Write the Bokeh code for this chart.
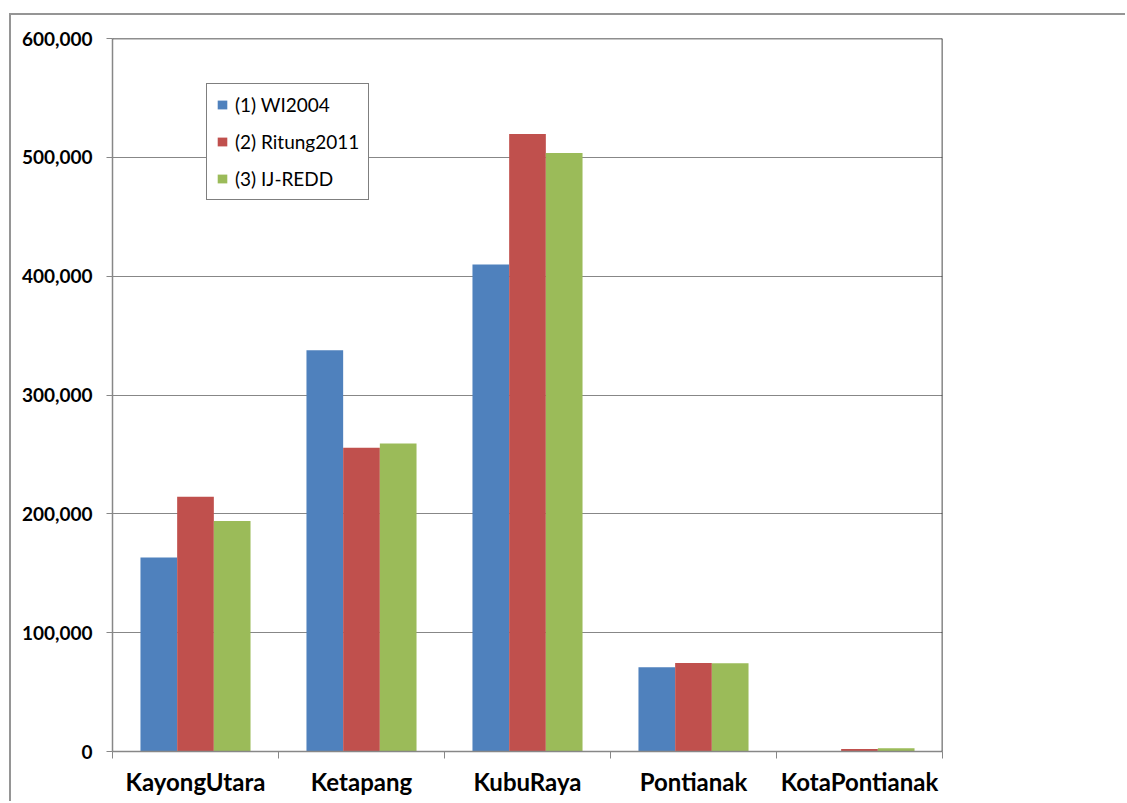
from bokeh.plotting import figure
from bokeh.models import (Range1d, FixedTicker, NumeralTickFormatter, Span, Legend,
                          ColumnDataSource)
from bokeh.transform import dodge
from bokeh.embed import file_html
from bokeh.resources import INLINE

# Forest area per district (ha) from three data sources
districts = ["KayongUtara", "Ketapang", "KubuRaya", "Pontianak", "KotaPontianak"]
wi2004 = [163300, 337600, 409800, 70800, 0]
ritung2011 = [214300, 255700, 519600, 74500, 2200]
ij_redd = [193900, 259100, 503600, 74200, 2800]

series_names = ["(1) WI2004", "(2) Ritung2011", "(3) IJ-REDD"]
series_colors = ["#4F81BD", "#C0504D", "#9BBB59"]
y_ticks = [0, 100000, 200000, 300000, 400000, 500000, 600000]

centers = [i + 0.5 for i in range(len(districts))]
source = ColumnDataSource(dict(x=centers, s1=wi2004, s2=ritung2011, s3=ij_redd))

BAR_W = 0.221
GRAY = "#878787"

p = figure(width=1116, height=788, output_backend="svg", toolbar_location=None,
           x_range=Range1d(0, len(districts)), y_range=Range1d(0, 600000),
           min_border_left=101, min_border_top=23, min_border_right=185,
           min_border_bottom=52)
# chart-area edge on the top and left, drawn as a shadow so it takes no layout space
p.styles = {"margin-left": "11px", "margin-top": "15px",
            "box-shadow": "-2px -2px 0 0 #959595"}
p.outline_line_color = None
p.background_fill_color = "white"
p.border_fill_color = "white"

renderers = []
for col, off, color in zip(["s1", "s2", "s3"], [-BAR_W, 0, BAR_W], series_colors):
    r = p.vbar(x=dodge("x", off), top=col, bottom=0, width=BAR_W, source=source,
               fill_color=color, line_color=None)
    renderers.append(r)

# frame edges on top and right
p.add_layout(Span(location=600000, dimension="width", line_color="#1e1e1e", line_width=1.6))
p.add_layout(Span(location=len(districts), dimension="height", line_color="#1e1e1e", line_width=1.6))

# y axis
yax = p.yaxis[0]
yax.ticker = FixedTicker(ticks=y_ticks)
yax.formatter = NumeralTickFormatter(format="0,0")
yax.axis_line_color = GRAY
yax.axis_line_width = 1.5
yax.major_tick_line_color = GRAY
yax.major_tick_in = 0
yax.major_tick_out = 6
yax.minor_tick_line_color = None
yax.major_label_standoff = 14
yax.major_label_text_font = "Lato"
yax.major_label_text_font_style = "bold"
yax.major_label_text_font_size = "19px"
yax.major_label_text_color = "black"

# x axis: names at the centers, tick marks at the boundaries
xax = p.xaxis[0]
xax.ticker = FixedTicker(ticks=centers, minor_ticks=list(range(len(districts) + 1)))
xax.major_label_overrides = {c: name for c, name in zip(centers, districts)}
xax.axis_line_color = GRAY
xax.axis_line_width = 1.5
xax.major_tick_line_color = None
xax.major_tick_in = 0
xax.major_tick_out = 0
xax.minor_tick_line_color = GRAY
xax.minor_tick_in = 0
xax.minor_tick_out = 7
xax.major_label_standoff = 8
xax.major_label_text_font = "Lato"
xax.major_label_text_font_style = "bold"
xax.major_label_text_font_size = "24px"
xax.major_label_text_color = "black"

p.xgrid.grid_line_color = None
p.ygrid.ticker = FixedTicker(ticks=y_ticks)
p.ygrid.grid_line_color = GRAY
p.ygrid.grid_line_width = 1.2

legend = Legend(items=[(n, [r]) for n, r in zip(series_names, renderers)],
                location=(94, 551), orientation="vertical")
legend.border_line_color = "black"
legend.border_line_width = 1.2
legend.background_fill_color = "white"
legend.background_fill_alpha = 1
legend.padding = 9
legend.margin = 0
legend.spacing = 14
legend.label_height = 20
legend.glyph_height = 11
legend.glyph_width = 12
legend.label_standoff = 7
legend.label_text_font = "Lato"
legend.label_text_font_size = "19px"
legend.label_text_color = "black"
p.add_layout(legend, "center")

open("out.html", "w").write(file_html(p, INLINE))
